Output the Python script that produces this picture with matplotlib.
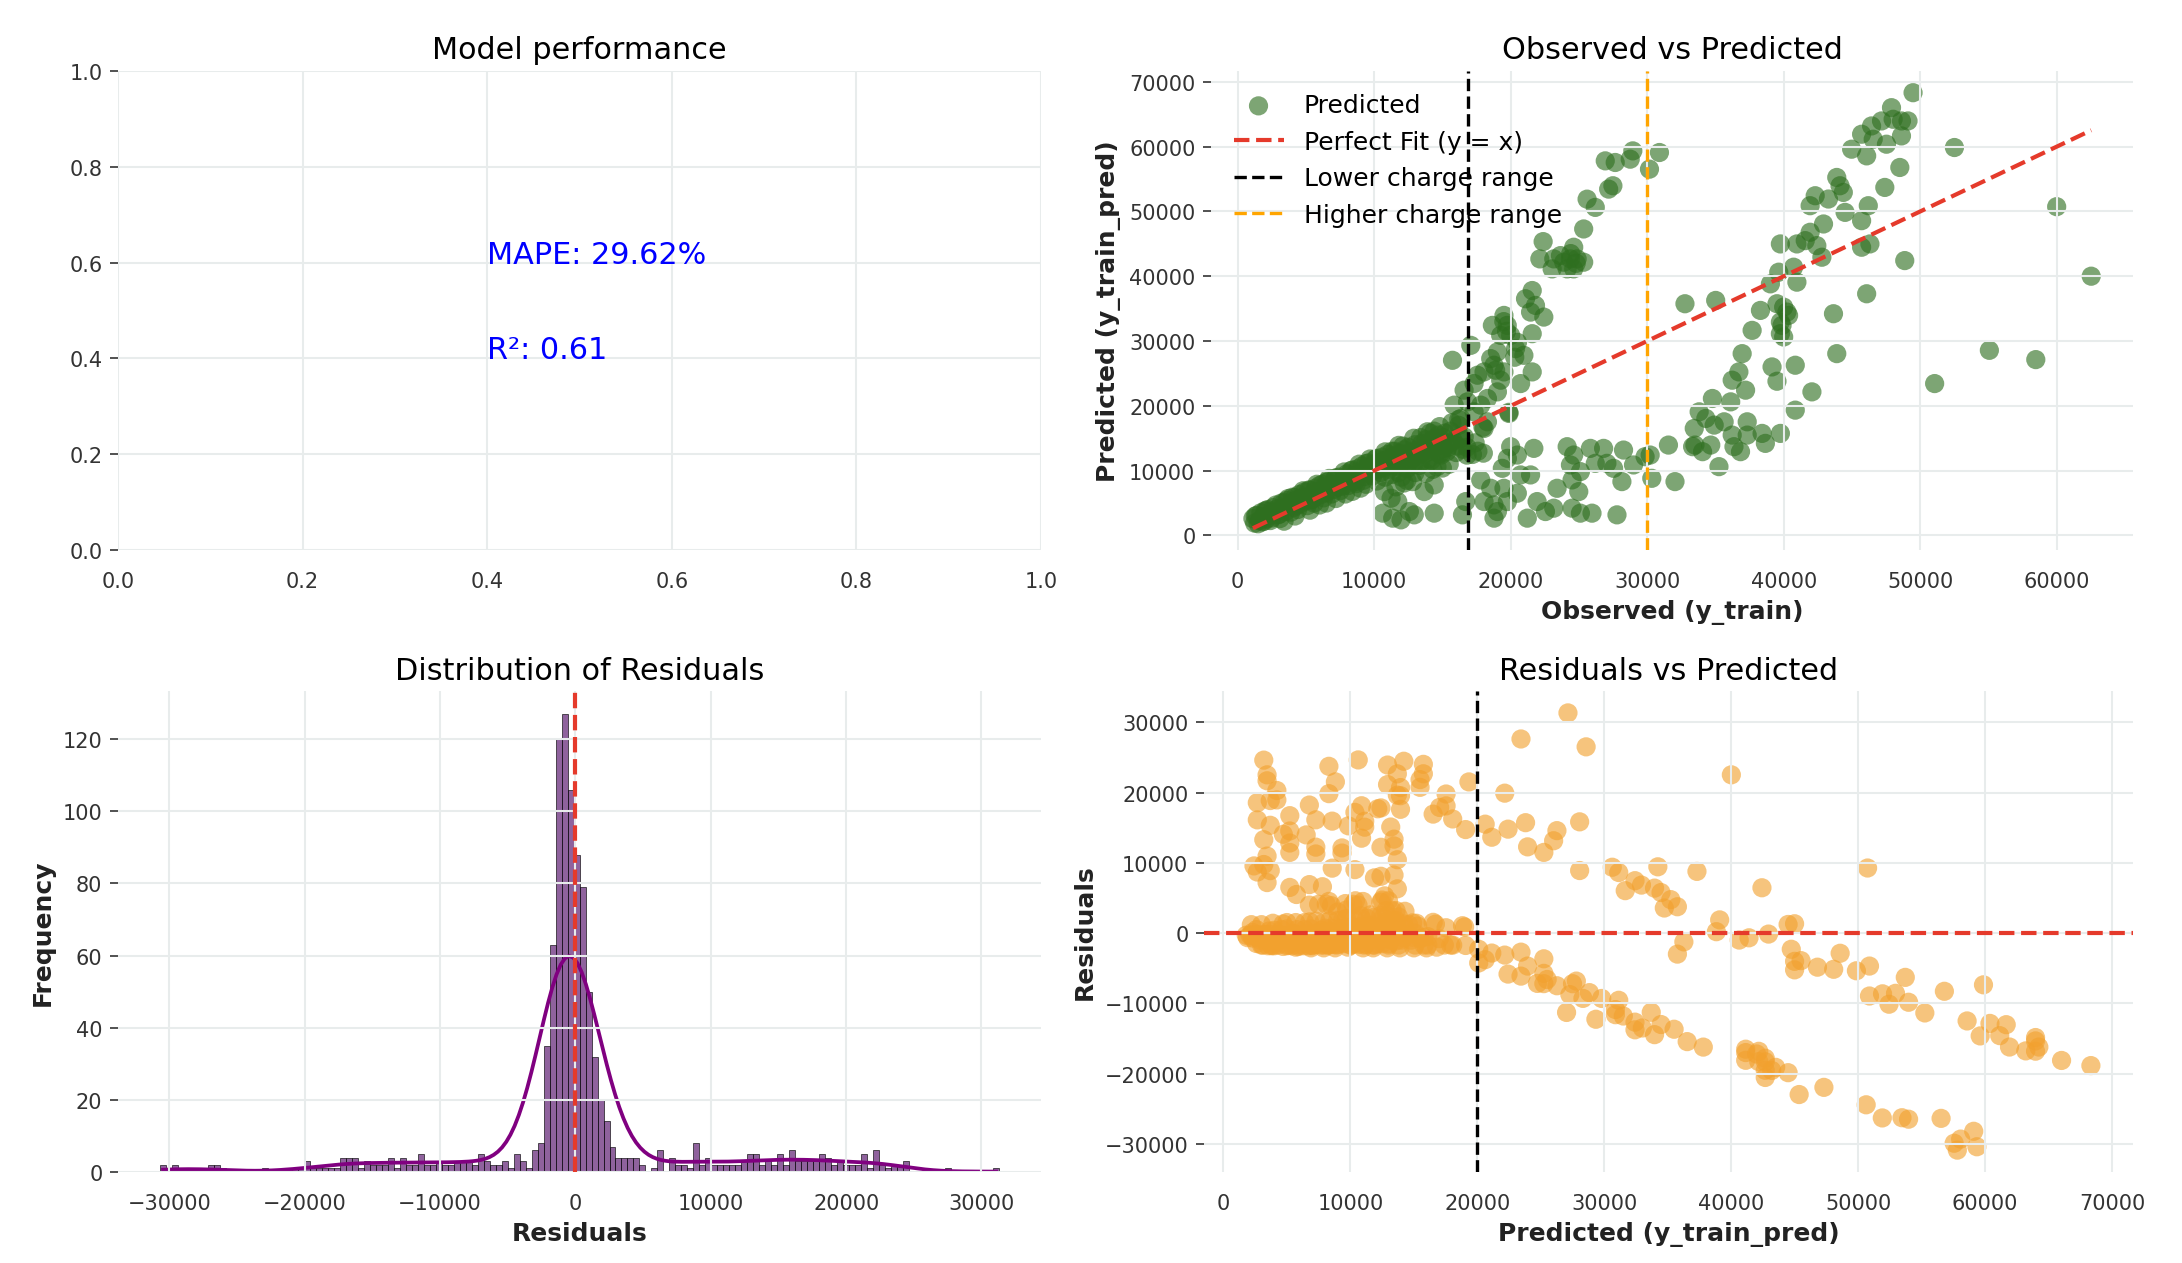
import numpy as np
import matplotlib
matplotlib.use('Agg')
import matplotlib.pyplot as plt
import seaborn as sns

# model metrics shown in the first panel
mape = 29.62
r2 = 0.61

# reference lines
lower_charge = 16900
higher_charge = 30000
pred_split = 20000

# observed vs predicted, main band along the diagonal
band_obs = [1120, 1250, 1400, 1600, 1700, 1800, 1900, 2000, 2150, 2200, 2300, 2500, 2600, 2700, 2900,
            3000, 3200, 3300, 3500, 3600, 3800, 4000, 4100, 4300, 4500, 4600, 4700, 4900, 5000, 5200,
            5400, 5500, 5700, 5900, 6100, 6200, 6400, 6600, 6800, 7000, 7100, 7300, 7400, 7600, 7700,
            8000, 8200, 8300, 8500, 8600, 8800, 9000, 9100, 9300, 9500, 9600, 9800, 10000, 10100, 10300,
            10400, 10600, 10700, 10900, 11000, 11200, 11400, 11500, 11700, 11900, 12000, 12200, 12300,
            12500, 12600, 12800, 13000, 13100, 13300, 13500, 13600, 13800, 14000, 14200, 14300, 14500,
            14700, 14900, 15000, 15200, 15400, 15600, 15800, 16000, 16300, 16500, 16800, 17200, 17600,
            18000, 17400, 16200, 16350, 17970, 14400, 16200, 19870,
            1500, 2400, 3100, 3900, 4400, 5100, 5600, 6300, 6900, 7500, 8100, 8700, 9200, 9900, 10500,
            11100, 11600, 12100, 12700, 13200, 13700, 14100, 14600, 15100, 15500, 16600,
            2800, 3700, 4800, 5800, 6700, 7800, 8900, 9700, 10800, 11800, 12900, 13900, 14800, 15700,
            15500, 14300, 13000, 16800, 12400,
            3400, 4200, 5300, 6000, 6500, 7200, 7900, 8400, 9000, 9400, 10200, 10800, 11300, 11800,
            12400, 12900, 13400, 14000, 14800, 15300, 16100,
            1300, 2100, 3400, 4200, 5300, 6000, 6500, 7200, 8400, 9400, 10200, 11300, 12100, 13400, 14100,
            1950, 3050, 4250, 5350, 6450, 7350, 8450, 9550, 10650, 11750, 12850, 13950, 15050,
            15000, 13800, 14600, 12200, 11600]
band_pred = [2600, 1900, 3100, 2300, 3500, 2100, 2900, 3800, 2600, 4000, 3100, 2700, 4300, 3500, 4100,
             3200, 5000, 4200, 3700, 5400, 4600, 5900, 4300, 5500, 6300, 4900, 5800, 6700, 5300, 7000,
             6200, 5600, 7300, 6800, 6300, 7900, 7000, 8300, 7400, 7100, 8700, 7900, 9000, 8300, 7600,
             9500, 8800, 10000, 9200, 8300, 10300, 9600, 10700, 9100, 10400, 11200, 9900, 11000, 11800, 10200,
             11300, 12100, 10500, 11700, 12500, 10900, 12200, 13000, 11400, 12700, 9000, 13200, 11600,
             13600, 12800, 11900, 14000, 13200, 10800, 14200, 12900, 14800, 13400, 11600, 14900, 13700,
             15500, 12400, 14300, 15800, 13600, 16100, 14600, 12800, 15300, 13300, 13600, 12500, 13000,
             12700, 14300, 17000, 14900, 16700, 16100, 17900, 19000,
             1800, 2300, 2600, 3600, 4000, 4600, 5000, 5800, 6400, 6900, 7700, 8000, 8500, 9200, 9700,
             10200, 10700, 11200, 11600, 12300, 12600, 13000, 12900, 13400, 14200, 15200,
             4700, 5700, 6900, 7900, 8800, 9800, 11000, 11800, 12900, 13900, 15000, 16000, 16800, 17400,
             11000, 10200, 9700, 12400, 8500,
             2200, 3000, 3900, 4700, 5000, 5700, 6400, 6800, 7300, 7900, 8400, 9000, 9400, 9700,
             10300, 10900, 11300, 11800, 12600, 12900, 13800,
             3000, 3800, 5100, 5900, 7000, 7700, 8200, 8900, 10100, 11100, 11900, 13000, 13800, 15100, 15800,
             2200, 3300, 4600, 5500, 6600, 7500, 8600, 9700, 10800, 11800, 12700, 14000, 15100,
             10400, 9600, 10600, 8100, 7500]

# over-predicted groups (upper left arms)
upper_obs = [30900, 28950, 28760, 30170, 27660, 26930, 27180, 27490, 25600, 26200, 25350, 22380, 22140,
             23160, 24620, 24380, 23890, 24620, 25350, 24140, 24870, 23650, 23040, 24400, 24800,
             21580, 21090, 21820, 22430, 21460, 19510, 18660, 19750, 20000, 21580, 19270, 17080, 15740,
             19030, 20360, 20970, 18540, 18780, 18050, 21580, 19510, 17570, 17320, 19270, 20730, 16590,
             19030, 18300, 16840, 15860, 17810, 17320, 16350, 19880, 18300, 18050, 19500, 19700, 20300,
             18900, 20500]
upper_pred = [59100, 59350, 58070, 56530, 57560, 57810, 53450, 53970, 51900, 50630, 47300, 45350, 42680,
              42680, 44480, 42680, 42170, 41140, 42170, 41140, 42680, 43190, 41140, 43500, 42000,
              37800, 36530, 35500, 33700, 34470, 33960, 32420, 32420, 30880, 31140, 30880, 29340, 27030,
              28320, 28830, 27800, 27290, 26270, 25240, 25240, 25240, 24730, 23440, 23960, 23440, 22420,
              22160, 21140, 20620, 20110, 20110, 19080, 18060, 18830, 17540, 16520, 33000, 31500, 27500,
              25500, 29800]

# under-predicted group (flat arm below the diagonal)
lower_obs = [10750, 11240, 11730, 10630, 11360, 11970, 12580, 12940, 13670, 14400, 12820, 14400, 16470,
             16710, 17810, 18050, 18780, 19030, 18780, 18540, 19510, 19390, 19760, 20000, 20490, 20730,
             21460, 20490, 19760, 21700, 21220, 21940, 22550, 23160, 23400, 24140, 24620, 24380, 25110,
             24500, 24990, 24500, 25110, 25960, 25840, 26200, 26810, 27050, 27540, 28270, 28150, 29000,
             27790, 29850, 30220, 30340, 31560, 32040]
lower_pred = [6770, 5750, 5230, 3440, 2670, 2410, 3690, 3180, 6770, 7800, 8310, 3440, 3180,
              5230, 8570, 5230, 4720, 3690, 2670, 7280, 7280, 10360, 11900, 13700, 12410, 9340,
              9340, 6520, 5230, 13440, 2670, 5230, 3690, 4210, 7280, 13700, 12410, 10880, 9850,
              8570, 6770, 4210, 3440, 3440, 13440, 11130, 13440, 11130, 10360, 13180, 8310, 10880,
              3180, 12160, 12410, 8820, 13950, 8310]

# high charges (right side)
high_obs = [32770, 35020, 49480, 47900, 47170, 48020, 48630, 49110, 46440, 45710, 46560, 47530, 48630,
            44980, 46080, 48510, 52510, 47410, 43890, 44130, 44370, 42310, 41940, 43280, 44500, 45710,
            46200, 42920, 41940, 41580, 42430, 40970, 39760, 42800, 45710, 46320, 48870, 40730, 39640,
            40970, 39030, 46080, 39510, 40240, 39760, 38300, 37690, 39760, 43650, 43890, 36960, 36720,
            39150, 40850, 39510, 36230, 37210, 42070, 40850, 51060, 55070, 58470, 60000, 62530, 40000,
            40360, 39880, 40000, 34780, 36120, 33810, 34300, 35640, 37330, 33450, 34910, 36230, 37330,
            38420, 39760, 33330, 34060, 34660, 36360, 36840, 38660, 35260, 33500]
high_pred = [35760, 36270, 68330, 66020, 63970, 64230, 63970, 63970, 63200, 61920, 61150, 60380, 61660,
             59610, 58580, 56790, 59870, 53710, 55250, 53970, 52940, 52430, 50890, 51920, 49860, 48580,
             50890, 48070, 46790, 45500, 44730, 44990, 44990, 42940, 44480, 44990, 42420, 41400, 40630,
             39090, 38830, 37300, 35760, 34470, 32930, 34730, 31650, 31140, 34220, 28060, 28060, 25240,
             26010, 26270, 23800, 23960, 22420, 22160, 19340, 23440, 28570, 27140, 50740, 40010, 35240,
             33960, 32420, 30630, 21140, 20620, 19080, 18060, 17540, 17540, 16520, 17030, 15490, 15490,
             15750, 15750, 13700, 12930, 13950, 13700, 12930, 14210, 10620, 13950]

# histogram of residuals: bin range and counts per bin (140 bins)
resid_min, resid_max, n_bins = -30700, 31300, 140
resid_counts = [2, 1, 2, 1, 1, 0, 0, 0, 2, 2,
                1, 0, 0, 0, 0, 0, 0, 1, 0, 0,
                0, 0, 1, 1, 3, 1, 1, 1, 1, 1,
                4, 4, 4, 1, 3, 2, 2, 2, 4, 1,
                4, 2, 2, 5, 2, 2, 3, 2, 2, 3,
                3, 3, 2, 5, 3, 2, 2, 3, 1, 5,
                3, 1, 6, 8, 35, 63, 120, 127, 106, 88,
                79, 50, 32, 20, 14, 7, 4, 4, 4, 4,
                2, 0, 1, 6, 0, 4, 2, 2, 1, 8,
                2, 4, 2, 2, 2, 2, 2, 3, 5, 5,
                2, 3, 2, 5, 2, 6, 3, 3, 3, 3,
                5, 4, 2, 3, 2, 2, 2, 5, 1, 6,
                2, 1, 2, 2, 3, 0, 0, 0, 0, 0,
                0, 1, 0, 0, 0, 0, 0, 0, 0, 1]

plt.rcParams.update({
    'font.family': ['DejaVu Sans'],
    'axes.spines.left': False,
    'axes.spines.right': False,
    'axes.spines.top': False,
    'axes.spines.bottom': False,
    'axes.grid': True,
    'axes.axisbelow': False,
    'grid.color': '#e8ecec',
    'grid.linewidth': 1.0,
    'xtick.major.size': 0,
    'xtick.major.pad': 10,
    'ytick.major.size': 4,
    'ytick.color': '#333333',
    'xtick.color': '#333333',
    'xtick.labelsize': 10,
    'ytick.labelsize': 10,
    'axes.titlesize': 14.5,
    'axes.labelsize': 12,
    'axes.labelweight': 'bold',
    'axes.labelcolor': '#222222',
})

obs_train = np.array(band_obs + upper_obs + lower_obs + high_obs, dtype=float)
pred_train = np.array(band_pred + upper_pred + lower_pred + high_pred, dtype=float)
residuals = obs_train - pred_train

edges = np.linspace(resid_min, resid_max, n_bins + 1)
centers = (edges[:-1] + edges[1:]) / 2
resid_sample = np.repeat(centers, resid_counts)

fig = plt.figure(figsize=(2182 / 150, 1264 / 150), dpi=150)
ax1 = fig.add_axes([0.0541, 0.5641, 0.4230, 0.3790])
ax2 = fig.add_axes([0.5550, 0.5641, 0.4226, 0.3790])
ax3 = fig.add_axes([0.0541, 0.0720, 0.4230, 0.3805])
ax4 = fig.add_axes([0.5518, 0.0720, 0.4258, 0.3805])

# 1. metrics
ax1.text(0.4, 0.6, 'MAPE: {:.2f}%'.format(mape), fontsize=14.5, color='blue')
ax1.text(0.4, 0.4, 'R²: {:.2f}'.format(r2), fontsize=14.5, color='blue')
ax1.set_xlim(0, 1)
ax1.set_ylim(0, 1)
ax1.set_title('Model performance')

# 2. observed vs predicted
ax2.scatter(obs_train, pred_train, s=85, color='#2e6f1f', alpha=0.62, edgecolors='none', label='Predicted')
ax2.plot([obs_train.min(), obs_train.max()], [obs_train.min(), obs_train.max()],
         '--', color='#e53a2b', lw=2, zorder=3, label='Perfect Fit (y = x)')
ax2.axvline(lower_charge, color='black', linestyle='--', lw=1.6, zorder=3, label='Lower charge range')
ax2.axvline(higher_charge, color='orange', linestyle='--', lw=1.6, zorder=3, label='Higher charge range')
ax2.set_title('Observed vs Predicted')
ax2.set_xlabel('Observed (y_train)')
ax2.set_ylabel('Predicted (y_train_pred)')
ax2.legend(loc='upper left', frameon=False, fontsize=12)

# 3. distribution of residuals
sns.histplot(resid_sample, bins=edges, kde=True, color='#6a2d7c', alpha=0.75, ax=ax3)
kde_line = ax3.lines[-1]
kde_line.set_color('purple')
kde_line.set_linewidth(1.8)
ax3.axvline(0, color='#e53a2b', linestyle='--', lw=2, zorder=3)
ax3.set_title('Distribution of Residuals')
ax3.set_xlabel('Residuals')
ax3.set_ylabel('Frequency')

# 4. residuals vs predicted
ax4.scatter(pred_train, residuals, s=85, color='#f2a12e', alpha=0.62, edgecolors='none')
ax4.axhline(0, color='#e53a2b', linestyle='--', lw=2, zorder=3)
ax4.axvline(pred_split, color='black', linestyle='--', lw=1.6, zorder=3)
ax4.set_title('Residuals vs Predicted')
ax4.set_xlabel('Predicted (y_train_pred)')
ax4.set_ylabel('Residuals')

fig.savefig('out.png', dpi=150)
